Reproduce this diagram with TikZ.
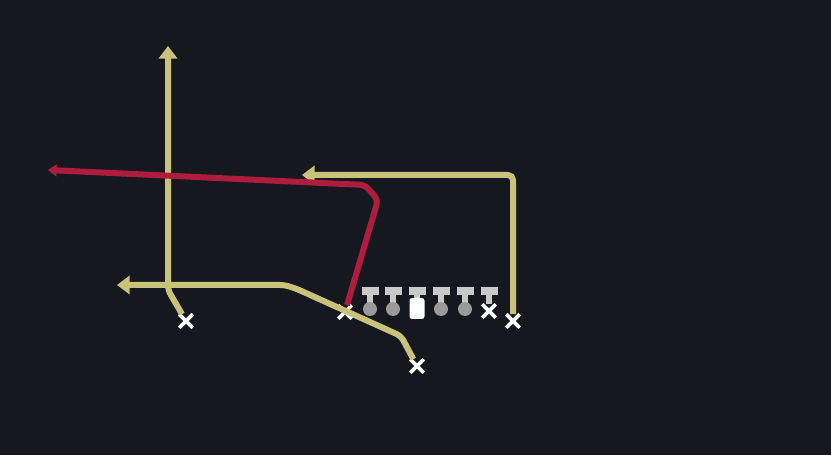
\documentclass[tikz,border=0pt]{standalone}
\usetikzlibrary{arrows.meta,shapes.misc}
\definecolor{field}{HTML}{15181E}
\definecolor{routey}{HTML}{C8C27A}
\definecolor{router}{HTML}{AE1D3E}
\definecolor{tbar}{HTML}{C9C9C9}
\definecolor{dotgray}{HTML}{9A9A9A}
\tikzset{
	route/.style={routey, line width=0.18cm, rounded corners=0.15cm, -{Triangle[length=0.38cm,width=0.55cm]}},
	hotroute/.style={route, router, -{Triangle[length=0.26cm,width=0.36cm]}},
	xman/.style={cross out, draw=white, line width=0.11cm, minimum size=0.3cm, inner sep=0pt},
}
\begin{document}
\begin{tikzpicture}[x=0.03cm,y=-0.03cm]
		\fill[field] (0,0) rectangle (831,455);
		\useasboundingbox (0,0) rectangle (831,455);
		
		% receivers and backs
		\node[xman] (wl) at (186,321) {};
		\node[xman] (te) at (345,312) {};
		\node[xman] (rb) at (417,366) {};
		\node[xman] (wr) at (513,321) {};
		
		% route ends
		\coordinate (go) at (168,46);
		\coordinate (post) at (48,170);
		\coordinate (flat) at (117,285);
		\coordinate (comeback) at (302,175);
		
		\draw[route] (wl) -- (168,290) -- (go);
		\draw[route] (rb) -- (401,336) -- (297,289) -- (285,285) -- (flat);
		\draw[route] (wr) -- (513,175) -- (comeback);
		\draw[hotroute] (te) -- (378,200) -- (365,185) -- (post);
		
		% line
		\foreach \x in {370,393,441,465,489} {
			\fill[tbar] (\x-8.5,287) rectangle (\x+8.5,295);
			\fill[tbar] (\x-3,295) rectangle (\x+3,304);
		}
		\foreach \x in {370,393,441,465}
			\fill[dotgray] (\x,309) circle (0.21cm);
		\fill[tbar] (417-8.5,287) rectangle (417+8.5,295);
		\fill[tbar] (417-3,295) rectangle (417+3,300);
		\fill[white, rounded corners=0.08cm] (409.5,298) rectangle (424.5,319);
		\node[xman] (rt) at (489,311) {};
	\end{tikzpicture}
\end{document}
